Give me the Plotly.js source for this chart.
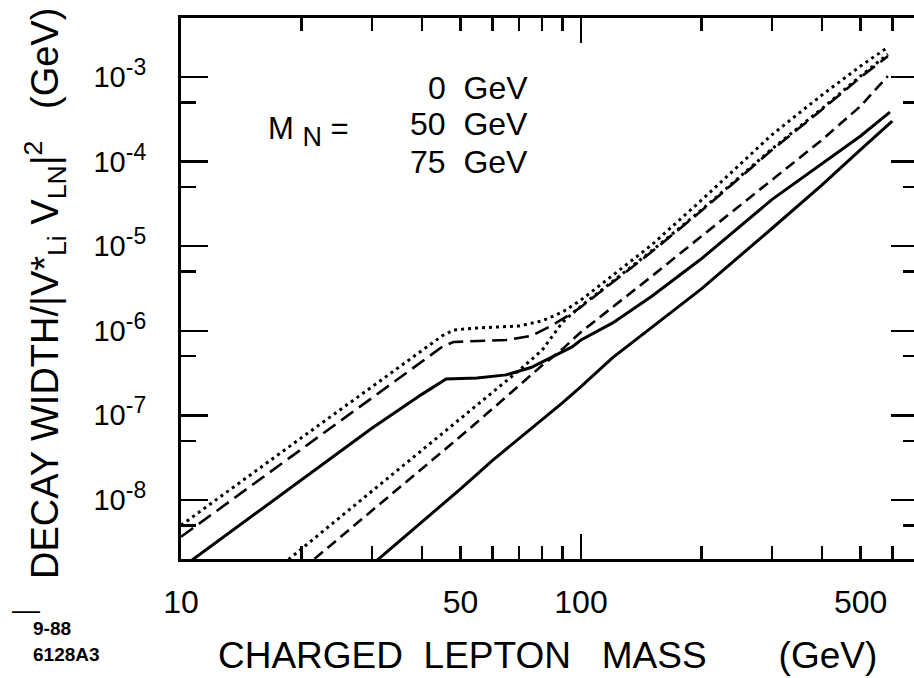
<!DOCTYPE html>
<html>
<head>
<meta charset="utf-8">
<script src="https://cdn.plot.ly/plotly-3.0.1.min.js"></script>
<style>
html,body{margin:0;padding:0;overflow:hidden;background:#fff;width:914px;height:678px}
#chart{width:930px;height:678px}
</style>
</head>
<body>
<div id="chart"></div>
<script>
// ---- data (charged lepton mass in GeV, decay width / |V*Li VLN|^2 in GeV) ----
// upper family (with kink near 45 GeV)
const xUpperDot  = [10, 15, 20, 30, 40, 45, 48, 55, 62, 70, 80, 90, 100, 120, 150, 200, 300, 400, 500, 585];
const yUpperDot  = [5.0e-9, 2.03e-8, 5.43e-8, 2.17e-7, 5.82e-7, 8.73e-7, 1.02e-6, 1.08e-6, 1.11e-6, 1.14e-6, 1.31e-6, 1.67e-6, 2.31e-6, 4.49e-6, 1.03e-5, 3.5e-5, 2.08e-4, 6.13e-4, 1.35e-3, 2.26e-3];
const xUpperDash = [10, 15, 20, 30, 40, 45, 48, 55, 65, 75, 85, 95, 100, 150, 200, 300, 400, 500, 585];
const yUpperDash = [3.66e-9, 1.48e-8, 3.97e-8, 1.60e-7, 4.31e-7, 6.47e-7, 7.38e-7, 7.57e-7, 7.78e-7, 8.68e-7, 1.17e-6, 1.62e-6, 1.91e-6, 8.53e-6, 2.62e-5, 1.37e-4, 4.12e-4, 9.97e-4, 1.77e-3];
const xUpperSolid = [10, 15, 20, 30, 40, 46, 55, 65, 75, 85, 95, 100, 120, 150, 200, 300, 400, 500, 592];
const yUpperSolid = [1.56e-9, 6.35e-9, 1.72e-8, 7.02e-8, 1.77e-7, 2.69e-7, 2.77e-7, 3.01e-7, 3.68e-7, 4.90e-7, 6.44e-7, 7.78e-7, 1.24e-6, 2.54e-6, 7.10e-6, 3.56e-5, 9.37e-5, 2.01e-4, 3.85e-4];
// lower family (straight rise)
const xLowerDot  = [18, 20, 25, 30, 40, 50, 60, 70, 80, 90, 100, 150, 200, 300, 400, 500, 585];
const yLowerDot  = [1.75e-9, 2.64e-9, 6.27e-9, 1.27e-8, 3.86e-8, 9.18e-8, 1.87e-7, 3.39e-7, 5.93e-7, 1.27e-6, 1.96e-6, 8.77e-6, 2.68e-5, 1.41e-4, 4.23e-4, 1.03e-3, 1.87e-3];
const xLowerDash = [20, 25, 30, 40, 50, 60, 70, 80, 90, 100, 120, 150, 200, 300, 400, 500, 585];
const yLowerDash = [1.49e-9, 3.61e-9, 7.41e-9, 2.32e-8, 5.65e-8, 1.19e-7, 2.23e-7, 3.90e-7, 6.11e-7, 9.68e-7, 1.91e-6, 4.38e-6, 1.31e-5, 6.12e-5, 1.80e-4, 4.54e-4, 1.03e-3];
const xLowerSolid = [30, 40, 50, 60, 70, 80, 90, 100, 120, 150, 200, 300, 400, 500, 600];
const yLowerSolid = [1.71e-9, 5.44e-9, 1.35e-8, 2.92e-8, 5.28e-8, 8.87e-8, 1.41e-7, 2.18e-7, 4.82e-7, 1.09e-6, 3.13e-6, 1.62e-5, 5.28e-5, 1.39e-4, 3.02e-4];

// axis ticks
const xLabelVals = [10, 50, 100, 500];
const xLabelText = ['10', '50', '100', '500'];
const xShortTicks = [20, 30, 40, 60, 70, 80, 90, 200, 300, 400, 600];
const xLongTicks = [10, 100];
const yMajorTicks = [1e-8, 1e-7, 1e-6, 1e-5, 1e-4, 1e-3];
const yExponents  = ['-8', '-7', '-6', '-5', '-4', '-3'];
const yMinorTicks = [5e-9, 5e-8, 5e-7, 5e-6, 5e-5, 5e-4];
const massLabels = ['0', '50', '75'];

// ---- layout geometry ----
const W = 930, H = 678, ML = 181, MR = 12, MT = 18, MB = 119;
const PW = W - ML - MR, PH = H - MT - MB;
const px = v => (v - ML) / PW;
const py = v => (H - MB - v) / PH;
const FONT = 'Liberation Sans, Arial, Helvetica, sans-serif';
const XRANGE = [1, 1 + PW / 400];
const YRANGE = [Math.log10(2e-9), Math.log10(5e-3)];
const yMajorText = yExponents.map(e => '10<sup><span style="font-size:23px">' + e + '</span></sup>');

const DOT = '3px,4px';
const traces = [
  {x: xUpperDot, y: yUpperDot, name: 'M_N = 0 GeV (upper)', line: {dash: DOT, width: 3}},
  {x: xUpperDash, y: yUpperDash, name: 'M_N = 50 GeV (upper)', line: {dash: '15px,7px', width: 2.6}},
  {x: xUpperSolid, y: yUpperSolid, name: 'M_N = 75 GeV (upper)', line: {dash: 'solid', width: 3}},
  {x: xLowerDot, y: yLowerDot, name: 'M_N = 0 GeV (lower)', line: {dash: DOT, width: 3}, xaxis: 'x3', yaxis: 'y3'},
  {x: xLowerDash, y: yLowerDash, name: 'M_N = 50 GeV (lower)', line: {dash: '11px,6px', width: 2.6}, xaxis: 'x2', yaxis: 'y2'},
  {x: xLowerSolid, y: yLowerSolid, name: 'M_N = 75 GeV (lower)', line: {dash: 'solid', width: 3}, xaxis: 'x2', yaxis: 'y2'}
].map(t => Object.assign({type: 'scatter', mode: 'lines', hoverinfo: 'skip'}, t,
  {line: Object.assign({color: '#000'}, t.line)}));

const annotations = [
  {text: 'DECAY WIDTH/|V*<sub>Li</sub> V<sub>LN</sub>|<sup>2</sup>\u00a0\u00a0\u00a0(GeV)',
   textangle: -90, x: px(45), y: py(294), xanchor: 'center', yanchor: 'middle', font: {size: 38}},
  {text: 'CHARGED\u00a0\u00a0LEPTON\u00a0\u00a0\u00a0MASS\u00a0\u00a0\u00a0\u00a0\u00a0\u00a0\u00a0(GeV)',
   x: px(547), y: py(655), xanchor: 'center', yanchor: 'middle', font: {size: 37}},
  {text: 'M <sub><span style="font-size:27px">N</span></sub> =', x: px(266), y: py(131), xanchor: 'left', yanchor: 'middle', font: {size: 31}},
  {text: massLabels[0] + '\u00a0\u00a0GeV', x: px(530), y: py(88), xanchor: 'right', yanchor: 'middle', font: {size: 32}},
  {text: massLabels[1] + '\u00a0\u00a0GeV', x: px(530), y: py(124), xanchor: 'right', yanchor: 'middle', font: {size: 32}},
  {text: massLabels[2] + '\u00a0\u00a0GeV', x: px(530), y: py(162), xanchor: 'right', yanchor: 'middle', font: {size: 32}},
  {text: '<b>9-88</b>', x: px(32), y: py(628), xanchor: 'left', yanchor: 'middle', borderpad: 0, font: {size: 19}},
  {text: '<b>6128A3</b>', x: px(32), y: py(654), xanchor: 'left', yanchor: 'middle', borderpad: 0, font: {size: 19}},
  {text: '\u2014', x: px(26), y: py(609), xanchor: 'center', yanchor: 'middle', borderpad: 0, font: {size: 28}}
].map(a => Object.assign({xref: 'paper', yref: 'paper', showarrow: false}, a,
  {font: Object.assign({family: FONT, color: '#000'}, a.font)}));

const baseAxis = {
  type: 'log', showgrid: false, zeroline: false, showline: true, linecolor: '#000', linewidth: 3,
  ticks: 'inside', tickcolor: '#000', tickwidth: 2.5, mirror: 'ticks', tickmode: 'array'
};
const ax = o => Object.assign({}, baseAxis, o);

const layout = {
  width: W, height: H,
  margin: {l: ML, r: MR, t: MT, b: MB, pad: 0},
  paper_bgcolor: '#fff', plot_bgcolor: 'rgba(0,0,0,0)',
  showlegend: false,
  font: {family: FONT, color: '#000'},
  // main axes: labels, short x ticks at labelled values, long y decade ticks
  xaxis: ax({range: XRANGE, tickvals: xLabelVals, ticktext: xLabelText, ticklen: 13,
             tickfont: {size: 32}, ticklabelstandoff: 13}),
  yaxis: ax({range: YRANGE, tickvals: yMajorTicks, ticktext: yMajorText, ticklen: 27,
             tickfont: {size: 29}, ticklabelstandoff: 26}),
  // overlay 2: short x ticks and y half-decade ticks
  xaxis2: ax({overlaying: 'x', anchor: 'y2', side: 'bottom', range: XRANGE,
              tickvals: xShortTicks, ticklen: 13, showticklabels: false}),
  yaxis2: ax({overlaying: 'y', anchor: 'x2', side: 'left', range: YRANGE,
              tickvals: yMinorTicks, ticklen: 15, showticklabels: false}),
  // overlay 3: long x ticks at 10 and 100
  xaxis3: ax({overlaying: 'x', anchor: 'y3', side: 'bottom', range: XRANGE,
              tickvals: xLongTicks, ticklen: 25, showticklabels: false}),
  yaxis3: ax({overlaying: 'y', anchor: 'x3', side: 'left', range: YRANGE,
              ticks: '', tickvals: [], showticklabels: false}),
  annotations: annotations
};

Plotly.newPlot('chart', traces, layout, {staticPlot: true, displayModeBar: false});
</script>
</body>
</html>
